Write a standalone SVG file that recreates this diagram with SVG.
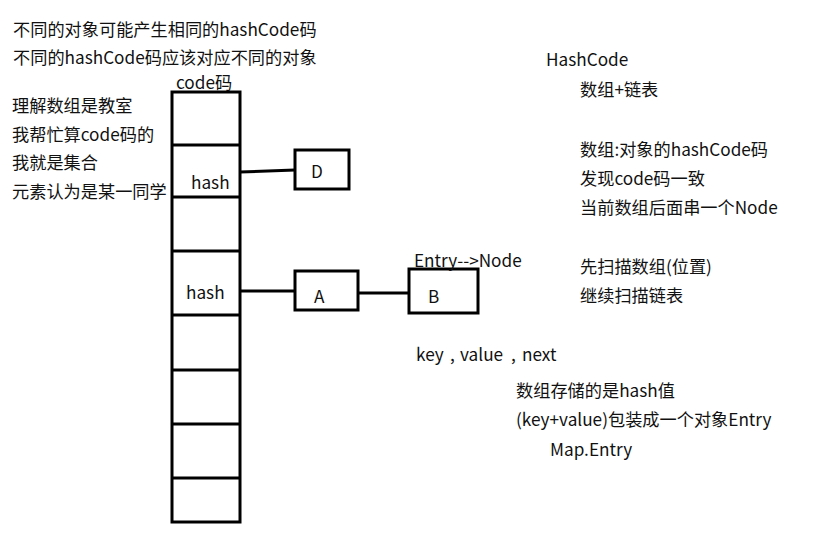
<svg xmlns="http://www.w3.org/2000/svg" width="830" height="549" viewBox="0 0 830 549">
<style>
text{font-family:"Noto Sans CJK SC","Microsoft YaHei","Noto Sans",sans-serif;font-size:17.2px;fill:#111}
.box{fill:none;stroke:#000;stroke-width:3}
.ln{stroke:#000;stroke-width:3;fill:none}
</style>
<rect width="830" height="549" fill="#fff"/>
<g id="notes-left">
<text x="13" y="36">不同的对象可能产生相同的hashCode码</text>
<text x="13" y="64">不同的hashCode码应该对应不同的对象</text>
<text x="12" y="112">理解数组是教室</text>
<text x="12" y="141">我帮忙算code码的</text>
<text x="12" y="169">我就是集合</text>
<text x="12" y="198">元素认为是某一同学</text>
</g>
<g id="array">
<text x="176" y="89">code码</text>
<rect class="box" x="172" y="92" width="68" height="430"/>
<path class="ln" d="M172 145H241M172 197H240M172 251H240M172 315H241M172 370H240M172 424H240M172 478H240"/>
<text x="191" y="189">hash</text>
<text x="186" y="299">hash</text>
</g>
<g id="node-D">
<rect class="box" x="295" y="150" width="54" height="39"/>
<text x="311" y="178">D</text>
</g>
<g id="node-A">
<rect class="box" x="295" y="271" width="63" height="39"/>
<text x="314" y="303">A</text>
</g>
<g id="node-B">
<rect class="box" x="409" y="269" width="69" height="44"/>
<text x="428" y="303">B</text>
<text x="414" y="267">Entry--&gt;Node</text>
</g>
<g id="connectors">
<path class="ln" d="M240 172L295 170"/>
<path class="ln" d="M240 291H295"/>
<path class="ln" d="M358 293H409"/>
</g>
<g id="notes-right">
<text x="546" y="66">HashCode</text>
<text x="580" y="96">数组+链表</text>
<text x="580" y="156">数组:对象的hashCode码</text>
<text x="580" y="185">发现code码一致</text>
<text x="580" y="214">当前数组后面串一个Node</text>
<text x="580" y="273">先扫描数组(位置)</text>
<text x="580" y="302">继续扫描链表</text>
<text y="361"><tspan x="416">key</tspan><tspan x="450">,</tspan><tspan x="460">value</tspan><tspan x="511">,</tspan><tspan x="522">next</tspan></text>
<text x="516" y="397">数组存储的是hash值</text>
<text x="516" y="426">(key+value)包装成一个对象Entry</text>
<text x="550" y="456">Map.Entry</text>
</g>
</svg>
